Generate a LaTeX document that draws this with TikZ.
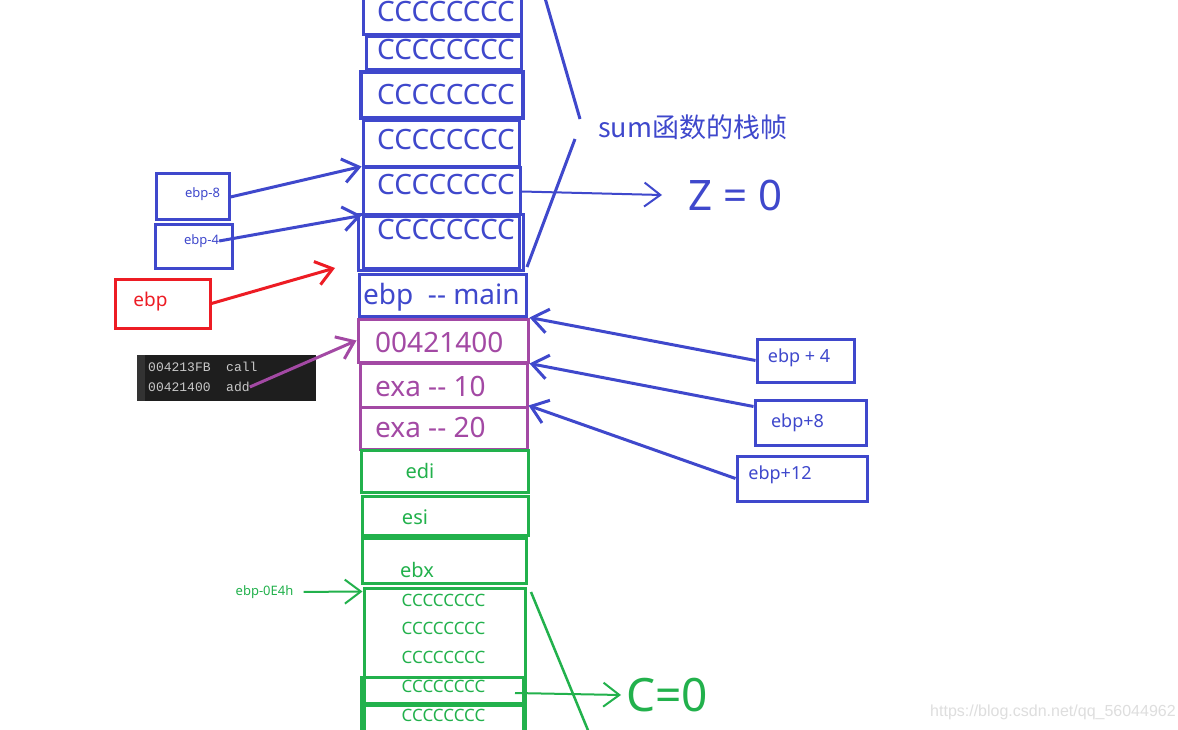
\documentclass[tikz,border=0pt]{standalone}
\usepackage{fontspec}
\setmainfont{Noto Sans}[Ligatures=TeXOff]
\newfontfamily\cjkfont{Noto Sans CJK SC}
\newfontfamily\codefont{Liberation Mono}
\newfontfamily\markfont{Liberation Sans}
\usetikzlibrary{arrows.meta, positioning}

\definecolor{frameblue}{RGB}{63,72,204}
\definecolor{framepurple}{RGB}{163,73,164}
\definecolor{framegreen}{RGB}{34,177,76}
\definecolor{framered}{RGB}{237,28,36}
\definecolor{codebg}{RGB}{30,30,30}
\definecolor{codeside}{RGB}{51,51,51}
\definecolor{codetext}{RGB}{200,200,200}

\newcommand{\pxfont}[1]{\fontsize{#1}{#1}\selectfont}

\tikzset{
    cell/.style={draw, rectangle, line width=3pt, inner sep=0pt},
    word/.style={inner sep=0pt, anchor=west},
    tag/.style={inner sep=0pt},
    ptr/.style={line width=3pt, -{Straight Barb[length=16pt,width=24pt]}},
}

\begin{document}
\begin{tikzpicture}[x=1pt, y=-1pt]
    \useasboundingbox (0,0) rectangle (1178,730);
    \fill[white] (0,0) rectangle (1178,730);
    \clip (0,0) rectangle (1178,730);

    % sum frame
    \node[cell, draw=frameblue, minimum width=158pt, minimum height=45pt] (s1) at (442,12.5) {};
    \node[cell, draw=frameblue, minimum width=155pt, minimum height=33pt] (s2) at (443.5,53.5) {};
    \node[cell, draw=frameblue, line width=4pt, minimum width=162pt, minimum height=46pt] (s3) at (442,95) {};
    \node[cell, draw=frameblue, minimum width=156pt, minimum height=46pt] (s4) at (441,144) {};
    \node[cell, draw=frameblue, minimum width=157pt, minimum height=47pt] (s5) at (441.5,191.5) {};
    \node[cell, draw=frameblue, minimum width=165pt, minimum height=55pt] (s6out) at (440.5,242.5) {};
    \node[cell, draw=frameblue, minimum width=156pt, minimum height=51pt] (s6) at (441,242.5) {};
    \node[word, text=frameblue, font=\pxfont{28}] (c1) at (377,12) {CCCCCCCC};
    \node[word, text=frameblue, font=\pxfont{28}] (c2) at (377,50) {CCCCCCCC};
    \node[word, text=frameblue, font=\pxfont{28}] (c3) at (377,95) {CCCCCCCC};
    \node[word, text=frameblue, font=\pxfont{28}] (c4) at (377,140) {CCCCCCCC};
    \node[word, text=frameblue, font=\pxfont{28}] (c5) at (377,185) {CCCCCCCC};
    \node[word, text=frameblue, font=\pxfont{28}] (c6) at (377,230) {CCCCCCCC};

    \node[cell, draw=frameblue, minimum width=167pt, minimum height=42pt] (main) at (442.5,295) {};
    \node[word, text=frameblue, font=\pxfont{28}] (mainlbl) at (363,297) {ebp\ \ -- main};

    % return address and arguments
    \node[cell, draw=framepurple, minimum width=170pt, minimum height=43pt] (ret) at (443,340.5) {};
    \node[cell, draw=framepurple, minimum width=167pt, minimum height=44pt] (arga) at (443.5,385) {};
    \node[cell, draw=framepurple, minimum width=167pt, minimum height=42pt] (argb) at (443.5,428) {};
    \node[word, text=framepurple, font=\pxfont{28}] (retlbl) at (375,342) {00421400};
    \node[word, text=framepurple, font=\pxfont{28}] (argalbl) at (375,386) {exa -- 10};
    \node[word, text=framepurple, font=\pxfont{28}] (argblbl) at (375,427) {exa -- 20};

    % main frame
    \node[cell, draw=framegreen, minimum width=167pt, minimum height=42pt] (edi) at (444.5,471) {};
    \node[cell, draw=framegreen, minimum width=166pt, minimum height=39pt] (esi) at (445,515.5) {};
    \node[cell, draw=framegreen, minimum width=164pt, minimum height=45pt] (ebx) at (444,560.5) {};
    \node[cell, draw=framegreen, minimum width=161pt, minimum height=160pt] (loc) at (444.5,668) {};
    \node[cell, draw=framegreen, minimum width=162pt, minimum height=26pt] (locc) at (442,690) {};
    \node[cell, draw=framegreen, minimum width=162pt, minimum height=40pt] (locd) at (442,725) {};
    \node[tag, text=framegreen, font=\pxfont{20}] (edilbl) at (420,471) {edi};
    \node[tag, text=framegreen, font=\pxfont{20}] (esilbl) at (415,517) {esi};
    \node[tag, text=framegreen, font=\pxfont{20}] (ebxlbl) at (417,570) {ebx};
    \node[tag, text=framegreen, font=\pxfont{17}] (g1) at (443.5,600) {CCCCCCCC};
    \node[tag, text=framegreen, font=\pxfont{17}] (g2) at (443.5,628) {CCCCCCCC};
    \node[tag, text=framegreen, font=\pxfont{17}] (g3) at (443.5,657) {CCCCCCCC};
    \node[tag, text=framegreen, font=\pxfont{17}] (g4) at (443.5,686) {CCCCCCCC};
    \node[tag, text=framegreen, font=\pxfont{17}] (g5) at (443.5,715) {CCCCCCCC};

    % left side
    \node[cell, draw=frameblue, minimum width=73pt, minimum height=46pt] (m8) at (192.5,197) {};
    \node[tag, text=frameblue, font=\pxfont{13}] (m8lbl) at (202.5,194) {ebp-8};
    \node[cell, draw=frameblue, minimum width=77pt, minimum height=43pt] (m4) at (193.5,246.5) {};
    \node[tag, text=frameblue, font=\pxfont{13}] (m4lbl) at (201.5,241) {ebp-4};
    \node[cell, draw=framered, minimum width=95pt, minimum height=49pt] (ebpbox) at (162.5,303.5) {};
    \node[tag, text=framered, font=\pxfont{19}] (ebplbl) at (150.5,302) {ebp};
    \coordinate (ebptip) at (335,268);

    \node[fill=codebg, inner sep=0pt, minimum width=179pt, minimum height=46pt] (code) at (226.5,378) {};
    \node[fill=codeside, inner sep=0pt, anchor=west, minimum width=8pt, minimum height=46pt] (codebar) at (code.west) {};
    \node[word, text=codetext, font=\codefont\pxfont{13}] (callln) at (148,367) {004213FB\ \ call};
    \node[word, text=codetext, font=\codefont\pxfont{13}] (addln) at (148,387) {00421400\ \ add};

    \node[tag, text=framegreen, font=\pxfont{13}] (e4lbl) at (264.5,592) {ebp-0E4h};

    % right side
    \node[cell, draw=frameblue, minimum width=97pt, minimum height=43pt] (p4) at (805.5,360.5) {};
    \node[tag, text=frameblue, font=\pxfont{18}] (p4lbl) at (799,358) {ebp + 4};
    \node[cell, draw=frameblue, minimum width=111pt, minimum height=45pt] (p8) at (810.5,422.5) {};
    \node[tag, text=frameblue, font=\pxfont{18}] (p8lbl) at (797.5,423) {ebp+8};
    \node[cell, draw=frameblue, minimum width=130pt, minimum height=45pt] (p12) at (802,478.5) {};
    \node[tag, text=frameblue, font=\pxfont{18}] (p12lbl) at (780,475) {ebp+12};

    \coordinate (brtop) at (545,-2);
    \coordinate (brmid) at (580,119);
    \coordinate (brmidb) at (575,139);
    \coordinate (brbot) at (527,267);
    \node[word, text=frameblue, font=\cjkfont\pxfont{27}] (sumlbl) at (598,127) {sum函数的栈帧};
    \coordinate (ztip) at (662,195);
    \node[tag, right=26pt of ztip, text=frameblue, font=\pxfont{42}] (zeq) {Z = 0};

    \coordinate (gtop) at (531,592);
    \coordinate (gbot) at (592,740);
    \coordinate (cstart) at (515,693);
    \coordinate (ctip) at (621,695);
    \node[tag, right=5pt of ctip, text=framegreen, font=\pxfont{46}] (ceq) {C=0};

    \node[word, text=black!13, font=\markfont\pxfont{16}] (mark) at (930,712) {https://blog.csdn.net/qq\_56044962};

    % connectors
    \draw[frameblue, line width=3pt]
        (brtop) -- (brmid)
        (brmidb) -- (brbot);
    \draw[ptr, frameblue] (m8.east) -- (s5.north west);
    \draw[ptr, frameblue] (m4lbl.east) -- (s6.north west);
    \draw[ptr, frameblue] (p4.west) -- (ret.north east);
    \draw[ptr, frameblue] ([yshift=16pt]p8.west) -- (ret.south east);
    \draw[ptr, frameblue] (p12.west) -- (argb.north east);
    \draw[ptr, frameblue, line width=2pt] (s5.east) -- (ztip);
    \draw[ptr, framered] (ebpbox.east) -- (ebptip);
    \draw[ptr, framepurple] (addln.east) -- (ret.west);
    \draw[ptr, framegreen, line width=2pt, shorten <=10pt] (e4lbl.east) -- ([yshift=-5pt]loc.north west);
    \draw[framegreen, line width=2.5pt] (gtop) -- (gbot);
    \draw[ptr, framegreen, line width=2pt] (cstart) -- (ctip);

\end{tikzpicture}
\end{document}
